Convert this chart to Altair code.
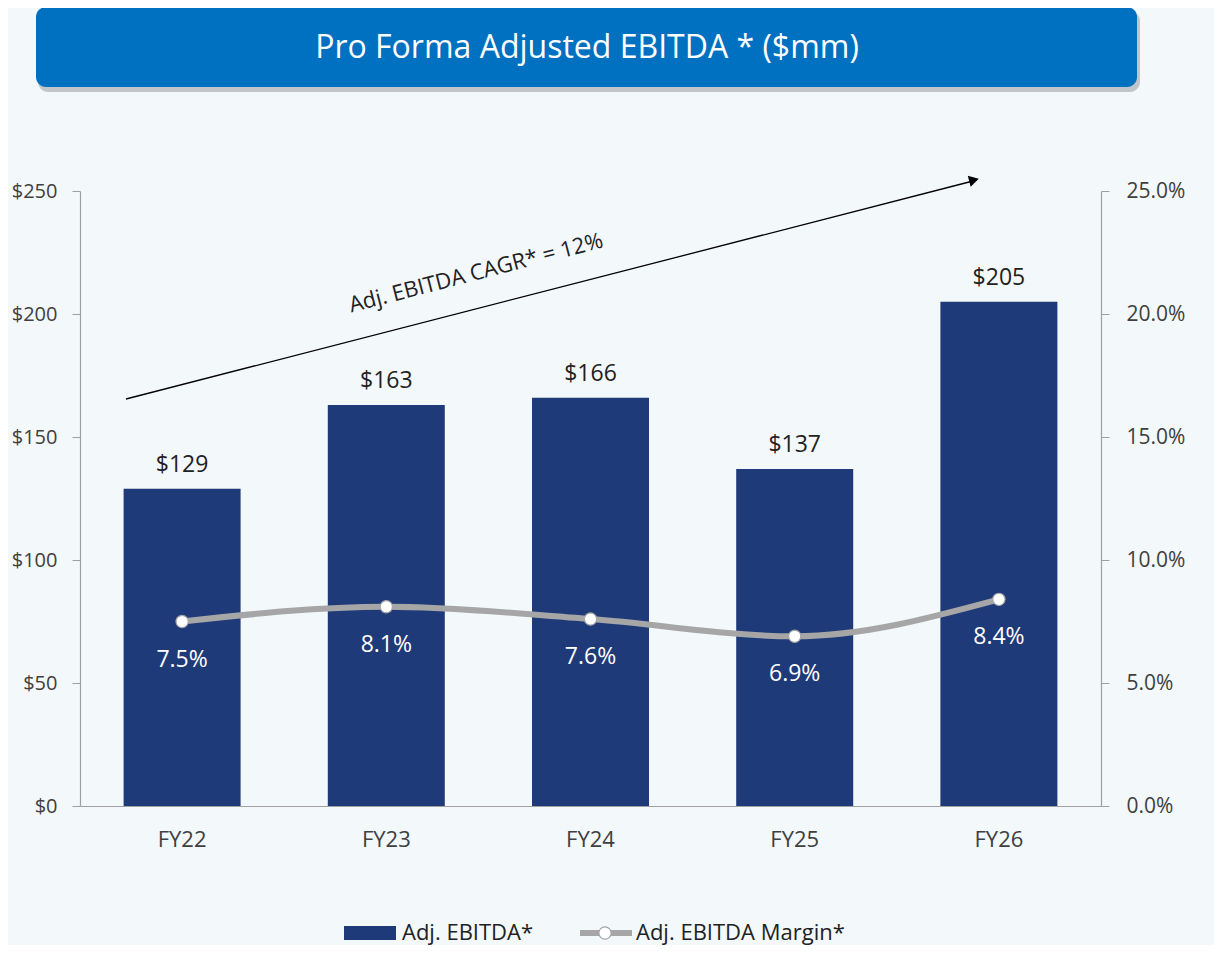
import altair as alt
import pandas as pd

# ---------------- data ----------------
years = ["FY22", "FY23", "FY24", "FY25", "FY26"]
ebitda = [129, 163, 166, 137, 205]
margin = [0.075, 0.081, 0.076, 0.069, 0.084]
left_ticks = [0, 50, 100, 150, 200, 250]
right_ticks = [0.0, 0.05, 0.10, 0.15, 0.20, 0.25]
title_text = "Pro Forma Adjusted EBITDA * ($mm)"
cagr_text = "Adj. EBITDA CAGR* = 12%"
legend_labels = ["Adj. EBITDA*", "Adj. EBITDA Margin*"]

# ---------------- style ----------------
W, H = 1021, 615
NAVY = "#1F3A78"
GREY = "#A6A6A6"
TXT = "#404040"
DARK = "#222222"
BLUE = "#0070C0"
FONT = "Open Sans"

df = pd.DataFrame({"year": years, "ebitda": ebitda, "margin": margin})
df["ebitda_label"] = ["$" + str(v) for v in ebitda]
df["margin_label"] = [f"{m * 100:.1f}%" for m in margin]

x_axis = alt.Axis(title=None, labelAngle=0, ticks=False, domainColor="#A0A0A0",
                  domainWidth=1.2, labelFontSize=22, labelColor=TXT, labelFont=FONT,
                  labelPadding=23)
x_enc = alt.X("year:N", sort=years, scale=alt.Scale(paddingInner=0, paddingOuter=0),
              axis=x_axis)

yl_scale = alt.Scale(domain=[0, 250], nice=False, zero=True)
yr_scale = alt.Scale(domain=[0, 0.25], nice=False, zero=True)

bars = alt.Chart(df).mark_bar(size=117, color=NAVY).encode(
    x=x_enc,
    y=alt.Y("ebitda:Q", scale=yl_scale,
            axis=alt.Axis(title=None, orient="left", values=left_ticks, format="$.0f",
                          grid=False, tickSize=8, tickColor="#A0A0A0", domainColor="#A0A0A0",
                          domainWidth=1.2, labelPadding=15, labelFontSize=20, labelColor=TXT,
                          labelFont=FONT)),
)

bar_labels = alt.Chart(df).mark_text(dy=-24, fontSize=23, color=DARK, font=FONT,
                                     baseline="middle").encode(
    x=x_enc,
    y=alt.Y("ebitda:Q", scale=yl_scale, axis=None),
    text="ebitda_label:N",
)

line = alt.Chart(df).mark_line(interpolate="monotone", strokeWidth=6, color=GREY).encode(
    x=x_enc,
    y=alt.Y("margin:Q", scale=yr_scale,
            axis=alt.Axis(title=None, orient="right", values=right_ticks, format=".1%",
                          grid=False, tickSize=8, tickColor="#A0A0A0", domainColor="#A0A0A0",
                          domainWidth=1.2, labelPadding=17, labelFontSize=21, labelColor=TXT,
                          labelFont=FONT)),
)

points = alt.Chart(df).mark_point(filled=True, fill="white", size=150, stroke=GREY,
                                  strokeWidth=1.2, opacity=1).encode(
    x=x_enc,
    y=alt.Y("margin:Q", scale=yr_scale, axis=None),
)

margin_labels = alt.Chart(df).mark_text(dy=38, fontSize=23, color="white", font=FONT,
                                        baseline="middle").encode(
    x=x_enc,
    y=alt.Y("margin:Q", scale=yr_scale, axis=None),
    text="margin_label:N",
)

# ---------------- decorations ----------------
one = pd.DataFrame({"t": [title_text]})

title_shadow = alt.Chart(one).mark_rect(color="#000000", opacity=0.2, cornerRadius=10).encode(
    x=alt.value(-42), x2=alt.value(1060), y=alt.value(-180), y2=alt.value(-99))
title_box = alt.Chart(one).mark_rect(color=BLUE, cornerRadius=10).encode(
    x=alt.value(-44), x2=alt.value(1057), y=alt.value(-184), y2=alt.value(-104))
title_lbl = alt.Chart(one).mark_text(fontSize=32, color="white", font=FONT,
                                     baseline="middle", align="center").encode(
    x=alt.value(507), y=alt.value(-143), text="t:N")

arrow_df = pd.DataFrame({"t": [cagr_text]})
arrow_rule = alt.Chart(arrow_df).mark_rule(color="#000000", strokeWidth=1.3).encode(
    x=alt.value(46), y=alt.value(208), x2=alt.value(893), y2=alt.value(-10))
arrow_head = alt.Chart(arrow_df).mark_point(shape="triangle-right", filled=True,
                                            color="#000000", size=130, angle=345.5,
                                            opacity=1).encode(
    x=alt.value(894), y=alt.value(-11))
cagr_lbl = alt.Chart(arrow_df).mark_text(fontSize=22, color=DARK, font=FONT, angle=345.5,
                                         align="center", baseline="middle").encode(
    x=alt.value(396), y=alt.value(82), text="t:N")

leg1 = pd.DataFrame({"t": [legend_labels[0]]})
leg2 = pd.DataFrame({"t": [legend_labels[1]]})
LY = 742
leg_rect = alt.Chart(leg1).mark_rect(color=NAVY).encode(
    x=alt.value(264), x2=alt.value(316), y=alt.value(LY - 7), y2=alt.value(LY + 7))
leg_txt1 = alt.Chart(leg1).mark_text(fontSize=22, color=DARK, font=FONT, align="left",
                                     baseline="middle").encode(
    x=alt.value(322), y=alt.value(LY), text="t:N")
leg_line = alt.Chart(leg2).mark_rule(color=GREY, strokeWidth=6).encode(
    x=alt.value(500), x2=alt.value(552), y=alt.value(LY))
leg_pt = alt.Chart(leg2).mark_point(filled=True, fill="white", size=150, stroke=GREY,
                                    strokeWidth=1.2, opacity=1).encode(
    x=alt.value(525), y=alt.value(LY))
leg_txt2 = alt.Chart(leg2).mark_text(fontSize=22, color=DARK, font=FONT, align="left",
                                     baseline="middle").encode(
    x=alt.value(556), y=alt.value(LY), text="t:N")

chart = alt.layer(
    bars, bar_labels, line, points, margin_labels,
    title_shadow, title_box, title_lbl,
    arrow_rule, arrow_head, cagr_lbl,
    leg_rect, leg_txt1, leg_line, leg_pt, leg_txt2,
).resolve_scale(y="independent").properties(
    width=W, height=H,
    autosize=alt.AutoSizeParams(type="none"),
    padding={"left": 72, "top": 183, "right": 113, "bottom": 139},
    background="#F3F8FA",
).configure_view(strokeWidth=0)

chart.save("out.html", embed_options={"renderer": "svg", "actions": False})
